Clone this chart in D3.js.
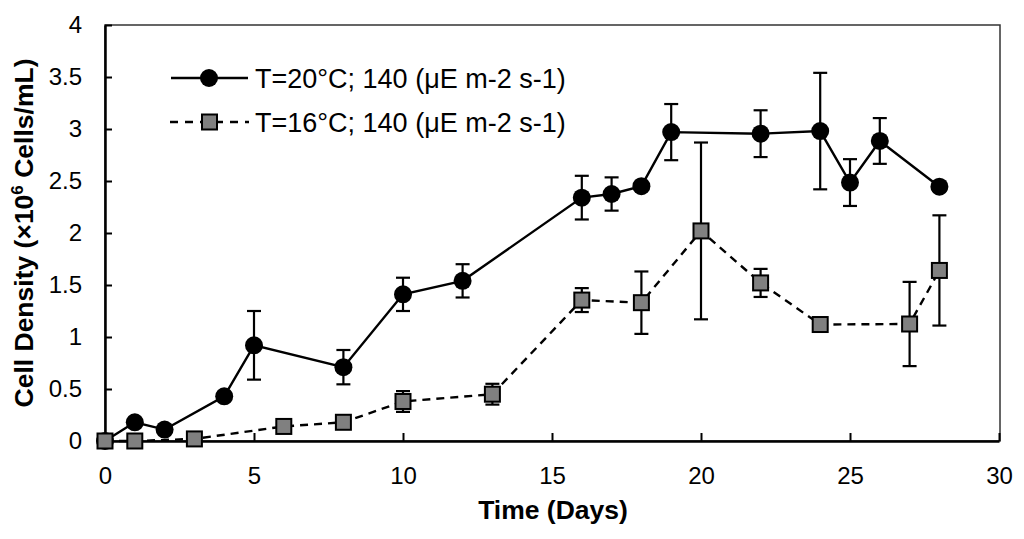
<!DOCTYPE html>
<html><head><meta charset="utf-8">
<script src="https://cdn.jsdelivr.net/npm/d3@7"></script>
<style>body{margin:0;background:#fff}svg{display:block}text{font-family:"Liberation Sans",Arial,sans-serif}</style>
</head><body>
<svg id="c" width="1024" height="539"></svg>
<script>
const days20 = [0,1,2,4,5,8,10,12,16,17,18,19,22,24,25,26,28];
const mean20 = [0,0.18,0.11,0.43,0.92,0.71,1.41,1.54,2.34,2.375,2.45,2.97,2.955,2.98,2.485,2.885,2.445];
const err20  = [0,0,0,0.04,0.33,0.165,0.16,0.16,0.21,0.16,0.03,0.27,0.225,0.56,0.225,0.22,0.04];
const days16 = [0,1,3,6,8,10,13,16,18,20,22,24,27,28];
const mean16 = [0,0,0.02,0.14,0.18,0.38,0.45,1.355,1.33,2.02,1.52,1.12,1.125,1.64];
const err16  = [0,0,0,0,0,0.1,0.1,0.115,0.3,0.85,0.135,0.03,0.405,0.53];
const xTicks = [0,5,10,15,20,25,30];
const yTicks = [0,0.5,1,1.5,2,2.5,3,3.5,4];
const legendLabels = ["T=20°C; 140 (μE m-2 s-1)","T=16°C; 140 (μE m-2 s-1)"];

const svg = d3.select("#c");
const L=105,R=1000,T=25,B=441;
const x = d3.scaleLinear().domain([0,30]).range([L,R-1]);
const y = d3.scaleLinear().domain([0,4]).range([B,T]);

// frame
svg.append("rect").attr("x",L).attr("y",T).attr("width",R-L).attr("height",B-T)
  .attr("fill","none").attr("stroke","#333").attr("stroke-width",1.5);

const xa = svg.append("g").attr("transform",`translate(0,${B})`)
  .call(d3.axisBottom(x).tickValues(xTicks).tickSizeInner(-8).tickSizeOuter(0).tickPadding(26).tickFormat(d3.format("d")));
const ya = svg.append("g").attr("transform",`translate(${L},0)`)
  .call(d3.axisLeft(y).tickValues(yTicks).tickSizeInner(-7).tickSizeOuter(0).tickPadding(23).tickFormat(d=>String(d)));
[xa,ya].forEach(a=>{
  a.selectAll("path").attr("stroke","#000").attr("stroke-width",2.5);
  a.selectAll("line").attr("stroke","#000").attr("stroke-width",2);
  a.selectAll("text").attr("font-size",24).attr("fill","#000").style("font-family",'"Liberation Sans",Arial,sans-serif');
});

// axis titles
svg.append("text").attr("x",553).attr("y",519).attr("text-anchor","middle")
  .attr("font-size",26.5).attr("font-weight","bold").text("Time (Days)");
const yt = svg.append("text").attr("transform",`translate(33,${(T+B)/2}) rotate(-90)`)
  .attr("text-anchor","middle").attr("font-size",26.5).attr("font-weight","bold");
yt.append("tspan").text("Cell Density (×10");
yt.append("tspan").attr("font-size",17).attr("dy",-10).text("6");
yt.append("tspan").attr("dy",10).text(" Cells/mL)");

const d20 = days20.map((d,i)=>({d,v:mean20[i],e:err20[i]}));
const d16 = days16.map((d,i)=>({d,v:mean16[i],e:err16[i]}));
const line = d3.line().x(p=>x(p.d)).y(p=>y(p.v));

function errBars(data){
  const g = svg.append("g").attr("stroke","#000").attr("stroke-width",2.2);
  data.filter(p=>p.e>0).forEach(p=>{
    g.append("line").attr("x1",x(p.d)).attr("x2",x(p.d)).attr("y1",y(p.v-p.e)).attr("y2",y(p.v+p.e));
    [p.v-p.e,p.v+p.e].forEach(v=>g.append("line").attr("x1",x(p.d)-7).attr("x2",x(p.d)+7).attr("y1",y(v)).attr("y2",y(v)));
  });
}

// series 20
svg.append("path").datum(d20).attr("d",line).attr("fill","none").attr("stroke","#000").attr("stroke-width",2.4);
errBars(d20);
svg.append("g").selectAll("circle").data(d20).join("circle")
  .attr("cx",p=>x(p.d)).attr("cy",p=>y(p.v)).attr("r",9).attr("fill","#000");

// series 16
svg.append("path").datum(d16).attr("d",line).attr("fill","none").attr("stroke","#000").attr("stroke-width",2.4).attr("stroke-dasharray","8,6");
errBars(d16);
svg.append("g").selectAll("rect").data(d16).join("rect")
  .attr("x",p=>x(p.d)-7.5).attr("y",p=>y(p.v)-7.5).attr("width",15).attr("height",15)
  .attr("fill","#808080").attr("stroke","#000").attr("stroke-width",2);

// legend
const lg = svg.append("g");
const ly = [78,122];
lg.append("line").attr("x1",171).attr("x2",248).attr("y1",ly[0]).attr("y2",ly[0]).attr("stroke","#000").attr("stroke-width",2.4);
lg.append("circle").attr("cx",209).attr("cy",ly[0]).attr("r",9).attr("fill","#000");
lg.append("line").attr("x1",170).attr("x2",249).attr("y1",ly[1]).attr("y2",ly[1]).attr("stroke","#000").attr("stroke-width",2.4).attr("stroke-dasharray","8,7");
lg.append("rect").attr("x",202).attr("y",ly[1]-7.5).attr("width",15).attr("height",15).attr("fill","#808080").attr("stroke","#000").attr("stroke-width",2);
legendLabels.forEach((t,i)=>lg.append("text").attr("x",255).attr("y",ly[i]+9.5).attr("font-size",27).text(t));
</script>
</body></html>
